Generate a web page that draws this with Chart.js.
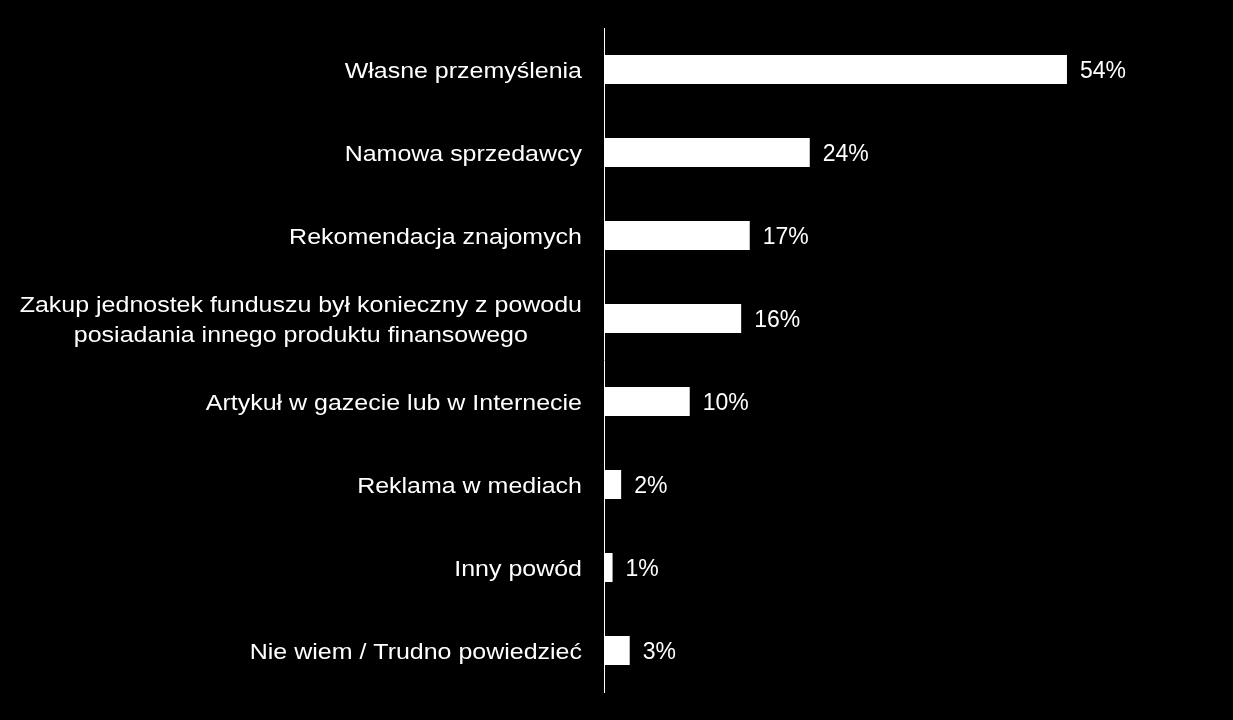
<!DOCTYPE html>
<html>
<head>
<meta charset="utf-8">
<script src="https://cdn.jsdelivr.net/npm/chart.js@4.4.0/dist/chart.umd.min.js"></script>
<style>
  html, body { margin: 0; padding: 0; background: #000; }
  #wrap { width: 1233px; height: 720px; position: relative; }
</style>
</head>
<body>
<div id="wrap"><canvas id="c" width="1233" height="720"></canvas></div>
<script>
const categories = [
  ["Własne przemyślenia"],
  ["Namowa sprzedawcy"],
  ["Rekomendacja znajomych"],
  ["Zakup jednostek funduszu był konieczny z powodu", "posiadania innego produktu finansowego"],
  ["Artykuł w gazecie lub w Internecie"],
  ["Reklama w mediach"],
  ["Inny powód"],
  ["Nie wiem / Trudno powiedzieć"]
];
const values = [54, 24, 17, 16, 10, 2, 1, 3];
const valueSuffix = "%";
const xMax = 60;

const FONT = "'Liberation Sans', Arial, sans-serif";

const labelPlugin = {
  id: 'customLabels',
  afterDraw(chart) {
    const ctx = chart.ctx;
    const yScale = chart.scales.y;
    const left = chart.chartArea.left;
    const xRight = left - 22;
    const sx = 1.11;
    const lineH = 30;
    const dy = 2;
    ctx.save();
    ctx.fillStyle = '#fff';
    ctx.font = "22.5px " + FONT;
    ctx.textBaseline = 'middle';
    categories.forEach((lines, i) => {
      const yc = yScale.getPixelForTick(i) + dy;
      if (lines.length === 1) {
        ctx.save();
        ctx.translate(xRight, yc);
        ctx.scale(sx, 1);
        ctx.textAlign = 'right';
        ctx.fillText(lines[0], 0, 0);
        ctx.restore();
      } else {
        const widest = Math.max(...lines.map(l => ctx.measureText(l).width)) * sx;
        const cx = xRight - widest / 2;
        const y0 = yc - (lines.length - 1) * lineH / 2;
        lines.forEach((l, k) => {
          ctx.save();
          ctx.translate(cx, y0 + k * lineH);
          ctx.scale(sx, 1);
          ctx.textAlign = 'center';
          ctx.fillText(l, 0, 0);
          ctx.restore();
        });
      }
    });
    // value labels
    ctx.font = "23px " + FONT;
    ctx.textAlign = 'left';
    const meta = chart.getDatasetMeta(0);
    meta.data.forEach((bar, i) => {
      ctx.fillText(values[i] + valueSuffix, bar.x + 13, bar.y + dy);
    });
    ctx.restore();
  }
};

new Chart(document.getElementById('c'), {
  type: 'bar',
  data: {
    labels: categories.map(l => l.join(' ')),
    datasets: [{
      data: values,
      backgroundColor: '#fff',
      borderWidth: 0,
      categoryPercentage: 1,
      barPercentage: 0.35
    }]
  },
  options: {
    indexAxis: 'y',
    responsive: false,
    animation: false,
    devicePixelRatio: 1,
    layout: { padding: { top: 28, bottom: 28, left: 0, right: 114.6 } },
    plugins: { legend: { display: false }, tooltip: { enabled: false } },
    scales: {
      x: { display: false, min: 0, max: xMax, grid: { display: false } },
      y: {
        display: true,
        grid: { display: false },
        border: { display: true, color: '#fff', width: 1 },
        ticks: { display: false },
        afterFit(scale) { scale.width = 604; }
      }
    }
  },
  plugins: [labelPlugin]
});
</script>
</body>
</html>
